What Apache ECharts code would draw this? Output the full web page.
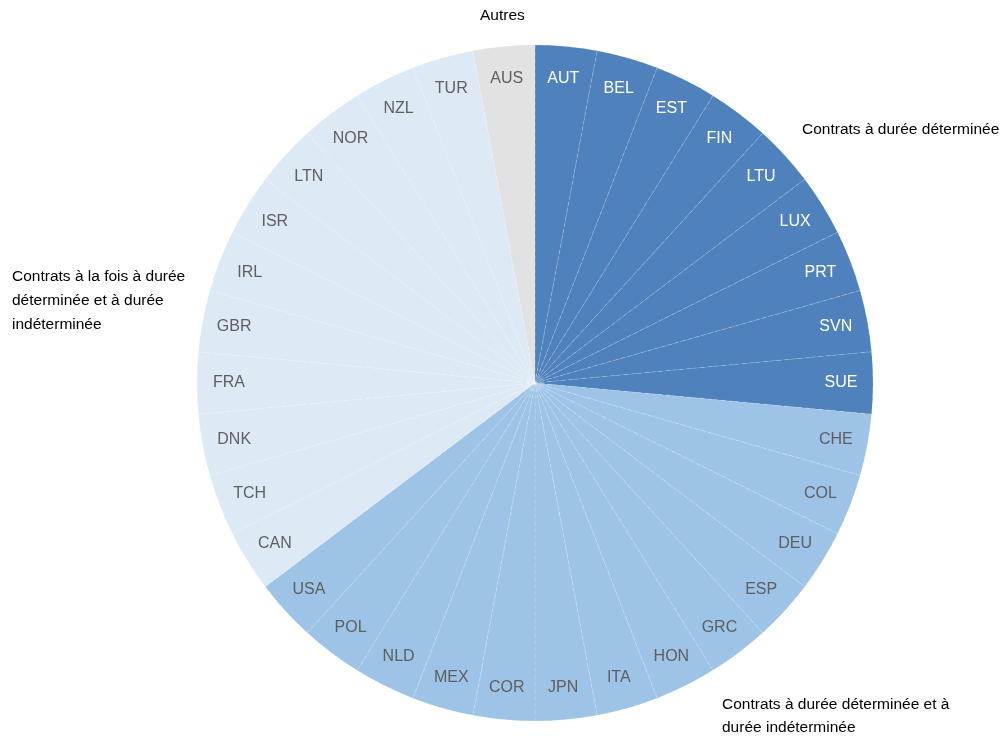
<!DOCTYPE html>
<html>
<head>
<meta charset="utf-8">
<script src="https://cdn.jsdelivr.net/npm/echarts@6/dist/echarts.min.js"></script>
<style>
  html, body { margin: 0; padding: 0; background: #fff; }
  #chart { width: 1000px; height: 736px; }
</style>
</head>
<body>
<div id="chart"></div>
<script>
// Countries, clockwise from 12 o'clock, grouped by contract type
const countries = [
  'AUT','BEL','EST','FIN','LTU','LUX','PRT','SVN','SUE',
  'CHE','COL','DEU','ESP','GRC','HON','ITA','JPN','COR','MEX','NLD','POL','USA',
  'CAN','TCH','DNK','FRA','GBR','IRL','ISR','LTN','NOR','NZL','TUR',
  'AUS'
];
// Group index of each country (0: fixed-term, 1: fixed & open-ended, 2: both at once, 3: other)
const groups = [
  0,0,0,0,0,0,0,0,0,
  1,1,1,1,1,1,1,1,1,1,1,1,1,
  2,2,2,2,2,2,2,2,2,2,2,
  3
];
// Each country counts once
const values = countries.map(() => 1);

const groupNames = [
  'Contrats à durée déterminée',
  'Contrats à durée déterminée et à\ndurée indéterminée',
  'Contrats à la fois à durée\ndéterminée et à durée\nindéterminée',
  'Autres'
];
const groupColors = ['#4f81bd', '#9dc3e6', '#dde9f5', '#e2e2e2'];
const labelColors = ['#ffffff', '#5f5f5f', '#5f5f5f', '#5f5f5f'];

const FONT = "'Liberation Sans', Arial, sans-serif";

const sliceData = countries.map((c, i) => ({
  name: c,
  value: values[i],
  itemStyle: { color: groupColors[groups[i]] }
}));

const labelData = countries.map((c, i) => ({
  name: c,
  value: values[i],
  label: { color: labelColors[groups[i]] }
}));

const chart = echarts.init(document.getElementById('chart'), null, { renderer: 'canvas' });

chart.setOption({
  animation: false,
  backgroundColor: '#ffffff',
  series: [
    {
      type: 'pie',
      center: [535, 383],
      radius: [0, 338],
      startAngle: 90,
      clockwise: true,
      silent: true,
      label: { show: false },
      labelLine: { show: false },
      itemStyle: {
        borderColor: 'rgba(255,255,255,0.3)',
        borderWidth: 0.6,
        borderType: [4, 3]
      },
      data: sliceData
    },
    {
      // transparent ring that carries the country labels near the rim
      type: 'pie',
      center: [535, 383],
      radius: [288, 318],
      startAngle: 90,
      clockwise: true,
      silent: true,
      itemStyle: { color: 'rgba(0,0,0,0)' },
      label: {
        show: true,
        position: 'inside',
        fontFamily: FONT,
        fontSize: 16,
        formatter: '{b}'
      },
      labelLine: { show: false },
      data: labelData
    }
  ],
  graphic: [
    { type: 'text', left: 480, top: 8,
      style: { text: groupNames[3], font: '15.5px ' + FONT, fill: '#000' } },
    { type: 'text', left: 802, top: 122,
      style: { text: groupNames[0], font: '15.5px ' + FONT, fill: '#000' } },
    { type: 'text', left: 12, top: 265,
      style: { text: groupNames[2], font: '15.5px ' + FONT, fill: '#000', lineHeight: 24 } },
    { type: 'text', left: 722, top: 693,
      style: { text: groupNames[1], font: '15.5px ' + FONT, fill: '#000', lineHeight: 23 } }
  ]
});
</script>
</body>
</html>
